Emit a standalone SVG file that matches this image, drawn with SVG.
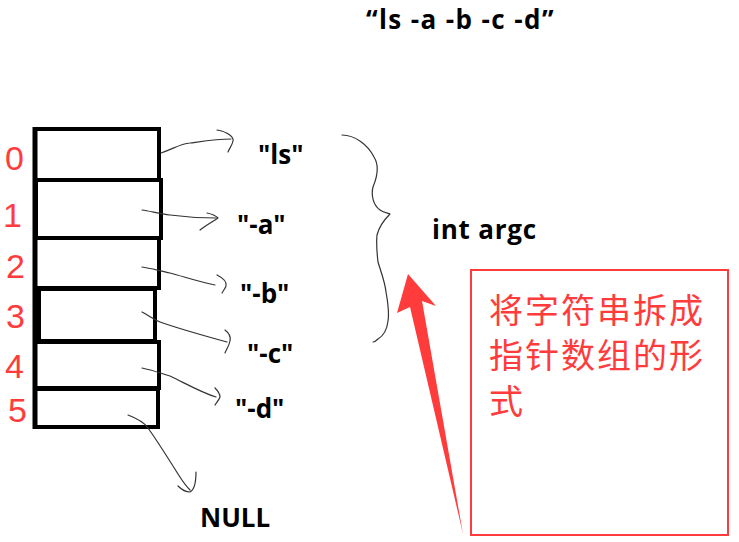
<svg xmlns="http://www.w3.org/2000/svg" width="739" height="542" viewBox="0 0 739 542">
<style>
.cell{fill:#fff;stroke:#000;stroke-width:4}
.idx{font-family:"Liberation Sans",Arial,sans-serif;font-size:34px;fill:#ff3b3b}
.lbl{font-family:"Open Sans","Liberation Sans",sans-serif;font-weight:bold;font-size:26px;fill:#000}
.pen{fill:none;stroke:#333;stroke-width:1.2;stroke-linecap:round;stroke-linejoin:round}
.cjk{font-family:"Noto Sans CJK SC",sans-serif;font-size:34px;letter-spacing:2px;fill:#ff3b3b}
</style>
<rect width="739" height="542" fill="#fff"/>
<g id="title"><text class="lbl" x="366" y="29" font-size="28" letter-spacing="1.4">“ls -a -b -c -d”</text></g>
<g id="array">
<rect class="cell" x="35" y="129" width="124" height="51"/>
<rect class="cell" x="36" y="180" width="125" height="58"/>
<rect class="cell" x="35" y="238" width="124" height="50"/>
<rect class="cell" x="39" y="289" width="116" height="52"/>
<rect class="cell" x="35" y="342" width="124" height="46"/>
<rect class="cell" x="35" y="389" width="123" height="38"/>
<line x1="35" y1="127" x2="35" y2="429" stroke="#000" stroke-width="5"/>
</g>
<g id="indices">
<text class="idx" x="5" y="170">0</text>
<text class="idx" x="3" y="227">1</text>
<text class="idx" x="6" y="278">2</text>
<text class="idx" x="6" y="328">3</text>
<text class="idx" x="5" y="378">4</text>
<text class="idx" x="8" y="422">5</text>
</g>
<g id="strings">
<text class="lbl" x="258" y="164">"ls"</text>
<text class="lbl" x="237" y="234">"-a"</text>
<text class="lbl" x="240" y="303">"-b"</text>
<text class="lbl" x="247" y="363">"-c"</text>
<text class="lbl" x="235" y="418">"-d"</text>
<text class="lbl" x="200" y="527">NULL</text>
</g>
<g id="argc"><text class="lbl" x="432" y="239" letter-spacing="0.8">int argc</text></g>
<g id="connectors">
<path class="pen" d="M161,153 C175,148 180,144 190,143 C205,141 218,139 231,139"/>
<path class="pen" d="M217,130 C228,132 234,137 233,141 C232,146 229,149 228,152"/>
<path class="pen" d="M142,210 C150,211 160,214 170,215 C185,217 200,218 216,218"/>
<path class="pen" d="M207,213 C212,214 216,216 218,218 C212,222 205,226 200,230"/>
<path class="pen" d="M142,267 C150,268 160,271 170,273 C185,277 200,282 215,285"/>
<path class="pen" d="M217,275 C223,278 227,282 226,286 C225,289 223,291 222,293"/>
<path class="pen" d="M142,312 C148,315 152,319 160,322 C180,329 205,336 227,342"/>
<path class="pen" d="M225,330 C229,333 231,337 230,341 C229,346 226,350 225,353"/>
<path class="pen" d="M142,368 C152,370 160,373 170,376 C185,383 200,392 216,397"/>
<path class="pen" d="M215,388 C218,391 220,394 220,397 C219,400 216,403 215,405"/>
<path class="pen" d="M128,415 C136,418 144,422 148,428 C158,442 168,458 178,474 C183,482 188,488 190,490"/>
<path class="pen" d="M178,486 C182,490 186,492 190,492 C194,490 196,484 196,472"/>
<path class="pen" d="M342,135 C355,135 368,145 374,157 C379,165 378,175 373,187 C371,195 373,205 380,210 C384,213 388,213 390,214 C384,220 379,227 377,235 C376,245 377,253 378,262 C381,272 385,282 386,292 C388,303 389,315 388,321 C387,330 383,336 378,339 C376,341 374,342 373,342"/>
<polygon points="408,274 436,306 422,301 463,534 410,307 397,313" fill="#ff3b3b"/>
</g>
<g id="note">
<rect x="471" y="270" width="257" height="265" fill="none" stroke="#ff3b3b" stroke-width="2"/>
<text class="cjk"><tspan x="489" y="323">将字符串拆成</tspan><tspan x="489" y="368">指针数组的形</tspan><tspan x="489" y="414">式</tspan></text>
</g>
</svg>
